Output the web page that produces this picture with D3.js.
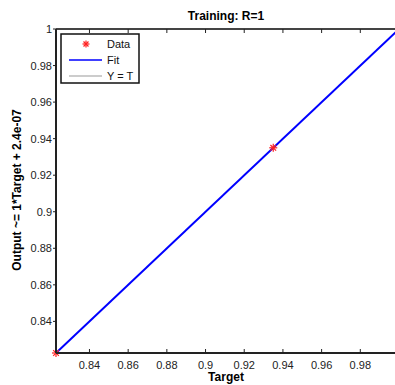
<!DOCTYPE html>
<html>
<head>
<meta charset="utf-8">
<script src="https://cdn.jsdelivr.net/npm/d3@7"></script>
<style>
  body { margin: 0; background: #fff; }
  text { font-family: "Liberation Sans", Arial, sans-serif; }
</style>
</head>
<body>
<div id="chart"></div>
<script>
// data
var targets = [0.8227, 0.935, 1.0];
var outputs = [0.8227, 0.935, 1.0];
var fitLine = [0.8227, 1.0];
var xTicks = [0.84, 0.86, 0.88, 0.9, 0.92, 0.94, 0.96, 0.98];
var yTicks = [0.84, 0.86, 0.88, 0.9, 0.92, 0.94, 0.96, 0.98, 1];
var legendLabels = ["Data", "Fit", "Y = T"];

var width = 395, height = 385;
var mLeft = 56, mTop = 29, mRight = 399, mBottom = 353;

var svg = d3.select('#chart').append('svg')
            .attr('width', width).attr('height', height);

var x = d3.scaleLinear().domain([0.8227, 1]).range([mLeft, mRight]);
var y = d3.scaleLinear().domain([0.8227, 1]).range([mBottom, mTop]);

// Y = T line (under fit)
svg.append('line')
  .attr('x1', x(0.8227)).attr('y1', y(0.8227))
  .attr('x2', x(1)).attr('y2', y(1))
  .attr('stroke', '#999').attr('stroke-dasharray', '1,1').attr('stroke-width', 1);

// fit
var line = d3.line().x(function(d){return x(d)}).y(function(d){return y(d)});
svg.append('path').datum(fitLine)
  .attr('d', line).attr('fill', 'none')
  .attr('stroke', '#0000ff').attr('stroke-width', 2);

// data stars
function star(g, cx, cy, r) {
  for (var i = 0; i < 4; i++) {
    var a = i * Math.PI / 4;
    g.append('line')
      .attr('x1', cx - r * Math.cos(a)).attr('y1', cy - r * Math.sin(a))
      .attr('x2', cx + r * Math.cos(a)).attr('y2', cy + r * Math.sin(a))
      .attr('stroke', '#ff2020').attr('stroke-width', 1.2);
  }
}
var pts = svg.append('g');
targets.forEach(function(t, i){ star(pts, x(t), y(outputs[i]), 4); });

// axes box
var ax = svg.append('g').attr('stroke', '#222').attr('stroke-width', 2);
ax.append('line').attr('x1', mLeft).attr('x2', mRight).attr('y1', mBottom).attr('y2', mBottom);
ax.append('line').attr('x1', mLeft).attr('x2', mRight).attr('y1', mTop).attr('y2', mTop).attr('stroke', '#444');
ax.append('line').attr('x1', mLeft).attr('x2', mLeft).attr('y1', mTop).attr('y2', mBottom);

// x ticks (inward, bottom and top)
var xt = svg.append('g');
xTicks.forEach(function(t){
  xt.append('line').attr('x1', x(t)).attr('x2', x(t)).attr('y1', mBottom).attr('y2', mBottom - 4).attr('stroke', '#222');
  xt.append('line').attr('x1', x(t)).attr('x2', x(t)).attr('y1', mTop).attr('y2', mTop + 4).attr('stroke', '#222');
  xt.append('text').attr('x', x(t)).attr('y', mBottom + 16)
    .attr('text-anchor', 'middle').attr('font-size', 11).attr('fill', '#222')
    .text(d3.format('~g')(t));
});

// y ticks
var yt = svg.append('g');
yTicks.forEach(function(t){
  yt.append('line').attr('x1', mLeft).attr('x2', mLeft - 3).attr('y1', y(t)).attr('y2', y(t)).attr('stroke', '#222');
  yt.append('text').attr('x', mLeft - 4).attr('y', y(t) + 4)
    .attr('text-anchor', 'end').attr('font-size', 11).attr('fill', '#222')
    .text(d3.format('~g')(t));
});

// title and labels
svg.append('text').attr('x', 226).attr('y', 20).attr('text-anchor', 'middle')
  .attr('font-size', 12).attr('font-weight', 'bold').text('Training: R=1');
svg.append('text').attr('x', 226).attr('y', 381).attr('text-anchor', 'middle')
  .attr('font-size', 12).attr('font-weight', 'bold').text('Target');
svg.append('text').attr('transform', 'translate(21,' + 190 + ') rotate(-90)')
  .attr('text-anchor', 'middle')
  .attr('font-size', 12).attr('font-weight', 'bold').text('Output ~= 1*Target + 2.4e-07');

// legend
var lg = svg.append('g');
lg.append('rect').attr('x', 61).attr('y', 34).attr('width', 78).attr('height', 49)
  .attr('fill', '#fff').attr('stroke', '#111').attr('stroke-width', 1.5);
var items = lg.selectAll('.legends').data(legendLabels).enter().append('g')
  .attr('transform', function(d, i){ return 'translate(0,' + (44 + i * 16) + ')'; });
items.each(function(d, i){
  var g = d3.select(this);
  if (i == 0) star(g, 86, 0, 3.5);
  if (i == 1) g.append('line').attr('x1', 69).attr('x2', 102).attr('y1', 0).attr('y2', 0)
                .attr('stroke', '#0000ff').attr('stroke-width', 1.5);
  if (i == 2) g.append('line').attr('x1', 69).attr('x2', 102).attr('y1', 0).attr('y2', 0)
                .attr('stroke', '#999').attr('stroke-width', 1);
});
items.append('text').attr('x', 107)
  .attr('y', 4).attr('font-size', 11).attr('fill', '#111').text(function(d){ return d; });
</script>
</body>
</html>
